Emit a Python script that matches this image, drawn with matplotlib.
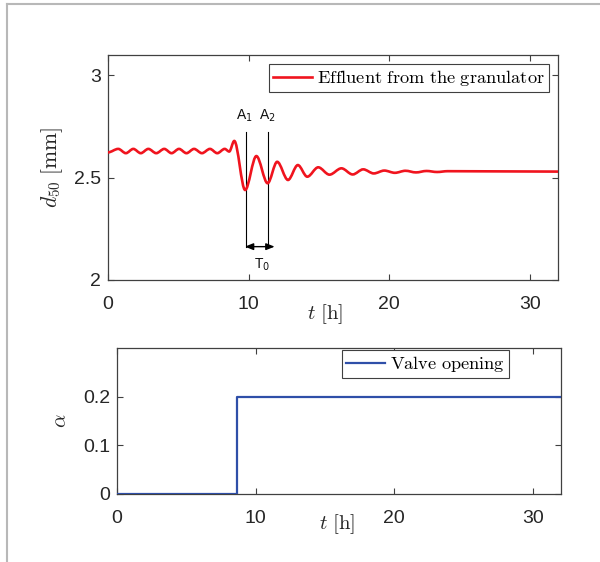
import matplotlib
matplotlib.use("Agg")
import matplotlib.pyplot as plt
from matplotlib.path import Path
from matplotlib.patches import PathPatch
from matplotlib.lines import Line2D

plt.rcParams['mathtext.fontset'] = 'cm'

# ---- data ----
# extrema (peaks/troughs) of the effluent d50 curve
t_ext = [0.0, 0.73, 1.27, 1.80, 2.33, 2.87, 3.43, 4.00, 4.52, 5.05, 5.58, 6.12,
         6.68, 7.25, 7.77, 8.30, 8.62, 8.98, 9.75, 10.55, 11.35, 12.03, 12.80,
         13.50, 14.17, 14.95, 15.75, 16.60, 17.40, 18.15, 18.90, 19.65, 20.40,
         21.15, 21.90, 22.65, 23.40, 24.15, 32.0]
d50_ext = [2.624, 2.641, 2.620, 2.641, 2.620, 2.641, 2.620, 2.641, 2.620, 2.641,
           2.620, 2.641, 2.620, 2.641, 2.620, 2.641, 2.628, 2.680, 2.440, 2.606,
           2.473, 2.578, 2.489, 2.562, 2.505, 2.551, 2.515, 2.546, 2.516, 2.541,
           2.521, 2.535, 2.524, 2.534, 2.526, 2.533, 2.528, 2.532, 2.530]

valve_t = [0.0, 8.65, 32.0]
valve_alpha = [0.0, 0.2, 0.2]

A1_t, A2_t = 9.78, 11.40
x_ticks = [0, 10, 20, 30]
y1_ticks = [2, 2.5, 3]
y2_ticks = [0, 0.1, 0.2]

red = '#f0141e'
blue = '#2f4fa8'
axcol = '#404040'
txtcol = '#262626'

fig = plt.figure(figsize=(6.0, 5.62), dpi=100)

# outer light frame
fig.add_artist(Line2D([6.7/600, 6.7/600], [0, 1 - 4.3/562], transform=fig.transFigure,
                      color='#b8b8b8', lw=1.5))
fig.add_artist(Line2D([6.7/600, 1], [1 - 4.3/562, 1 - 4.3/562], transform=fig.transFigure,
                      color='#b8b8b8', lw=1.5))

ax1 = fig.add_axes([0.18, 0.5018, 0.75, 0.4003])
ax2 = fig.add_axes([0.195, 0.121, 0.7395, 0.2593])

def style(ax):
    for s in ax.spines.values():
        s.set_color(axcol)
        s.set_linewidth(0.9)
    ax.tick_params(direction='in', length=4, width=0.8, color=axcol,
                   top=True, right=True, labelsize=14, labelcolor=txtcol)
    ax.tick_params(axis='x', pad=11.5)
    ax.tick_params(axis='y', pad=5)
    for lab in ax.get_xticklabels() + ax.get_yticklabels():
        lab.set_fontfamily('Liberation Sans')

# ---- top: smooth curve through extrema (Bezier, horizontal tangents) ----
verts = [(t_ext[0], d50_ext[0])]
codes = [Path.MOVETO]
for i in range(len(t_ext) - 1):
    t0, v0, t1, v1 = t_ext[i], d50_ext[i], t_ext[i + 1], d50_ext[i + 1]
    dt = t1 - t0
    verts += [(t0 + dt / 3, v0), (t1 - dt / 3, v1), (t1, v1)]
    codes += [Path.CURVE4] * 3
ax1.add_patch(PathPatch(Path(verts, codes), fill=False, edgecolor=red, lw=1.9,
                        joinstyle='round', capstyle='round', zorder=3))

ax1.set_xlim(0, 32)
ax1.set_ylim(2, 3.1)
ax1.set_xticks(x_ticks)
ax1.set_yticks(y1_ticks)
ax1.set_yticklabels(['2', '2.5', '3'])
style(ax1)
ax1.set_xlabel(r'$t\ \mathrm{[h]}$', fontsize=15, color=txtcol)
ax1.xaxis.set_label_coords(0.482, -0.098)
ax1.set_ylabel(r'$d_{50}\ \mathrm{[mm]}$', fontsize=15.5, color=txtcol)
ax1.yaxis.set_label_coords(-0.095, 0.5)

h1 = Line2D([], [], color=red, lw=1.9)
leg1 = ax1.legend([h1], [r'$\mathrm{Effluent\ from\ the\ granulator}$'],
                  loc='upper right', bbox_to_anchor=(0.98, 0.96), borderaxespad=0,
                  fontsize=13.2, frameon=True, fancybox=False, framealpha=1,
                  edgecolor=axcol, handlelength=2.1, handletextpad=0.3,
                  borderpad=0.22)
leg1.get_frame().set_linewidth(0.8)

# annotation: A1, A2, T0
y_top, y_bot = 2.724, 2.163
for tt, lab in [(A1_t, r'A$_1$'), (A2_t, r'A$_2$')]:
    ax1.plot([tt, tt], [y_bot, y_top], color='black', lw=0.8, zorder=2)
    ax1.text(tt - 0.1, y_top + 0.04, lab, ha='center', va='bottom', fontsize=10,
             family='Liberation Sans', math_fontfamily='dejavusans', color='#111111')
ax1.annotate('', xy=(A1_t - 0.05, y_bot), xytext=(A2_t + 0.45, y_bot),
             arrowprops=dict(arrowstyle='<|-|>,head_length=0.5,head_width=0.2',
                             color='black', lw=1.0, shrinkA=0, shrinkB=0))
ax1.text(10.93, 2.075, r'T$_0$', ha='center', va='center', fontsize=10,
         family='Liberation Sans', math_fontfamily='dejavusans', color='#111111')

# ---- bottom: valve opening ----
ax2.step(valve_t, valve_alpha, where='post', color=blue, lw=1.6,
         label=r'$\mathrm{Valve\ opening}$', zorder=3)
ax2.set_xlim(0, 32)
ax2.set_ylim(0, 0.3)
ax2.set_xticks(x_ticks)
ax2.set_yticks(y2_ticks)
ax2.set_yticklabels(['0', '0.1', '0.2'])
style(ax2)
ax2.set_xlabel(r'$t\ \mathrm{[h]}$', fontsize=15, color=txtcol)
ax2.xaxis.set_label_coords(0.496, -0.125)
ax2.set_ylabel(r'$\alpha$', fontsize=15, color=txtcol)
ax2.yaxis.set_label_coords(-0.105, 0.5)
leg2 = ax2.legend(loc='upper right', bbox_to_anchor=(0.884, 0.988), borderaxespad=0,
                  fontsize=13.2, frameon=True, fancybox=False, framealpha=1,
                  edgecolor=axcol, handlelength=2.1, handletextpad=0.3,
                  borderpad=0.22)
leg2.get_frame().set_linewidth(0.8)

fig.savefig('out.png', dpi=100)
